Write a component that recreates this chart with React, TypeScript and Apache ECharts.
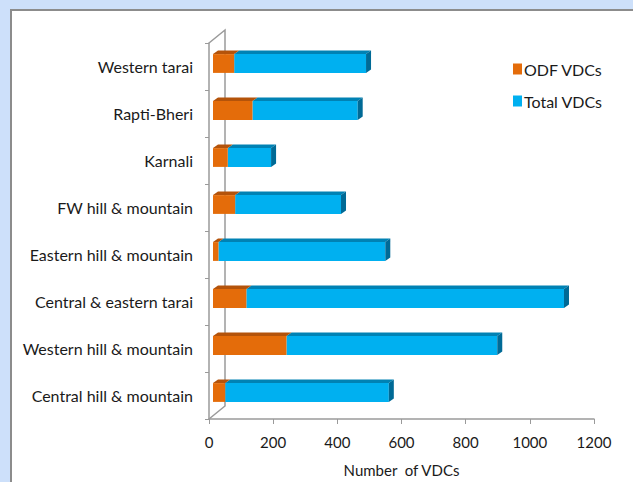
import React, { useEffect, useRef } from "react";
import * as echarts from "echarts";

// Categories listed bottom-to-top
const categories = [
  "Central hill & mountain",
  "Western hill & mountain",
  "Central & eastern tarai",
  "Eastern hill & mountain",
  "FW hill & mountain",
  "Karnali",
  "Rapti-Bheri",
  "Western tarai",
];
const odfVDCs = [38, 229, 104, 17, 69, 46, 123, 66];
const totalVDCs = [510, 657, 990, 520, 330, 135, 328, 411];
const xMin = 0;
const xMax = 1200;
const xInterval = 200;

const W = 633;
const H = 482;
const GRID_LEFT = 209;
const GRID_RIGHT = 39;
const GRID_TOP = 43;
const GRID_BOTTOM = 63;

// 3D offsets
const FX = 4, FY = -3; // bar front face offset from axis plane
const DX = 5, DY = -3.5; // bar depth
const WX = 16, WY = -13; // back wall offset

const FONT = "Lato, 'Open Sans', sans-serif";

function makeRender(front: string, top: string, side: string, drawEnd: boolean) {
  return (params: any, api: any) => {
    const ci = params.dataIndex;
    const start = api.value(0);
    const end = api.value(1);
    const p1 = api.coord([start, ci]);
    const p2 = api.coord([end, ci]);
    const band = api.size([0, 1])[1];
    const h = band * 0.4;
    const x1 = p1[0] + FX;
    const x2 = p2[0] + FX;
    const yc = p1[1] + FY;
    const yT = yc - h / 2;
    const yB = yc + h / 2;
    const children: any[] = [
      {
        type: "polygon",
        shape: { points: [[x1, yT], [x2, yT], [x2 + DX, yT + DY], [x1 + DX, yT + DY]] },
        style: { fill: top },
      },
      {
        type: "rect",
        shape: { x: x1, y: yT, width: x2 - x1, height: h },
        style: { fill: front },
      },
    ];
    if (drawEnd) {
      children.push({
        type: "polygon",
        shape: { points: [[x2, yT], [x2 + DX, yT + DY], [x2 + DX, yB + DY], [x2, yB]] },
        style: { fill: side },
      });
    }
    return { type: "group", children };
  };
}

export default function App() {
  const ref = useRef<HTMLDivElement>(null);
  useEffect(() => {
    document.body.style.margin = "0";
    const chart = echarts.init(ref.current!, null, { renderer: "svg" });
    const odfData = odfVDCs.map((v) => [0, v]);
    const totData = totalVDCs.map((v, i) => [odfVDCs[i], odfVDCs[i] + v]);
    const gx0 = GRID_LEFT;
    const gy0 = GRID_TOP;
    const gy1 = H - GRID_BOTTOM;
    chart.setOption({
      animation: false,
      backgroundColor: "#cde0fa",
      textStyle: { fontFamily: FONT },
      graphic: [
        {
          type: "rect",
          z: -10,
          silent: true,
          shape: { x: 11, y: 10, width: 700, height: 600 },
          style: { fill: "#ffffff", stroke: "#8c8c8c", lineWidth: 2 },
        },
        {
          type: "polyline",
          z: 1,
          silent: true,
          shape: {
            points: [
              [gx0, gy0],
              [gx0 + WX, gy0 + WY],
              [gx0 + WX, gy1 + WY],
              [gx0, gy1],
            ],
          },
          style: { stroke: "#9a9a9a", lineWidth: 1.5, fill: "none" },
        },
      ],
      grid: { left: GRID_LEFT, right: GRID_RIGHT, top: GRID_TOP, bottom: GRID_BOTTOM },
      legend: {
        orient: "vertical",
        left: 508,
        top: 56,
        itemWidth: 9,
        itemHeight: 11,
        itemGap: 16,
        icon: "rect",
        textStyle: { fontSize: 16, color: "#1a1a1a", fontFamily: FONT, padding: [0, 0, 0, -3] },
        data: ["ODF VDCs", "Total VDCs"],
      },
      xAxis: {
        type: "value",
        min: xMin,
        max: xMax,
        interval: xInterval,
        splitLine: { show: false },
        axisLine: { show: true, lineStyle: { color: "#9a9a9a", width: 1.5 } },
        axisTick: { show: true, length: 5, lineStyle: { color: "#9a9a9a" } },
        axisLabel: {
          fontSize: 15,
          color: "#1a1a1a",
          margin: 15,
          fontFamily: FONT,
          formatter: (v: number) => String(v),
        },
        name: "Number  of VDCs",
        nameLocation: "middle",
        nameGap: 43,
        nameTextStyle: { fontSize: 15, color: "#1a1a1a", fontFamily: FONT },
      },
      yAxis: {
        type: "category",
        data: categories,
        axisLine: { show: true, lineStyle: { color: "#9a9a9a", width: 1.5 } },
        axisTick: { show: true, length: 4, lineStyle: { color: "#9a9a9a" } },
        axisLabel: { fontSize: 16, color: "#1a1a1a", margin: 16, fontFamily: FONT },
      },
      series: [
        {
          name: "ODF VDCs",
          type: "custom",
          itemStyle: { color: "#e46c0a" },
          encode: { x: [0, 1], y: -1 },
          renderItem: makeRender("#e46c0a", "#b4530a", "#9c4808", false),
          data: odfData,
          z: 3,
        },
        {
          name: "Total VDCs",
          type: "custom",
          itemStyle: { color: "#00b0f0" },
          encode: { x: [0, 1], y: -1 },
          renderItem: makeRender("#00b0f0", "#0082b4", "#006a96", true),
          data: totData,
          z: 2,
        },
      ],
    });
    return () => chart.dispose();
  }, []);
  return <div ref={ref} style={{ width: W, height: H }} />;
}
